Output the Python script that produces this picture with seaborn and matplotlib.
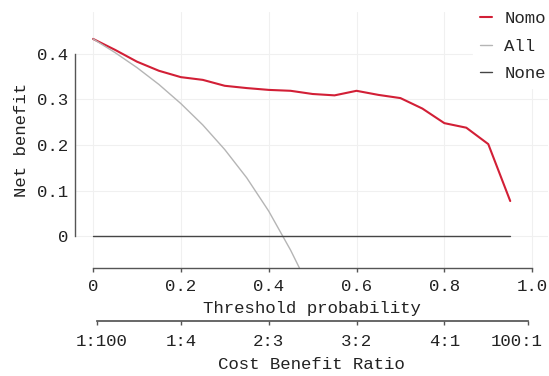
import matplotlib
matplotlib.use('Agg')
import matplotlib.pyplot as plt
import matplotlib.transforms as mtransforms
import seaborn as sns
import pandas as pd

# decision curve values
thresholds = [0.00, 0.05, 0.10, 0.15, 0.20, 0.25, 0.30, 0.35, 0.40, 0.45,
              0.50, 0.55, 0.60, 0.65, 0.70, 0.75, 0.80, 0.85, 0.90, 0.95]
nomo = [0.433, 0.409, 0.383, 0.363, 0.349, 0.343, 0.330, 0.325, 0.321, 0.319,
        0.312, 0.309, 0.319, 0.310, 0.303, 0.280, 0.248, 0.238, 0.202, 0.077]
all_x = [0.00, 0.05, 0.10, 0.15, 0.20, 0.25, 0.30, 0.35, 0.40, 0.45, 0.47]
all_nb = [0.433, 0.403, 0.370, 0.333, 0.291, 0.244, 0.190, 0.128, 0.055, -0.031, -0.070]
none_x = [0.00, 0.95]
none_nb = [0.0, 0.0]

x_ticks = [0, 0.2, 0.4, 0.6, 0.8, 1.0]
x_labels = ['0', '0.2', '0.4', '0.6', '0.8', '1.0']
y_ticks = [0, 0.1, 0.2, 0.3, 0.4]
y_labels = ['0', '0.1', '0.2', '0.3', '0.4']
cbr_ticks = [0.01, 0.2, 0.4, 0.6, 0.8, 0.99]
cbr_labels = ['1:100', '1:4', '2:3', '3:2', '4:1', '100:1']

sns.set_theme(style='whitegrid')
plt.rcParams['font.family'] = ['Liberation Mono', 'DejaVu Sans']
plt.rcParams['font.size'] = 12.5

fig = plt.figure(figsize=(5.49, 3.76), dpi=100)
ax = fig.add_axes([75 / 549, 1 - 268 / 376, 473 / 549, 256 / 376])

df_nomo = pd.DataFrame({'x': thresholds, 'y': nomo})
df_all = pd.DataFrame({'x': all_x, 'y': all_nb})
df_none = pd.DataFrame({'x': none_x, 'y': none_nb})

sns.lineplot(data=df_nomo, x='x', y='y', ax=ax, color='#d21f36', lw=1.5, label='Nomo')
sns.lineplot(data=df_all, x='x', y='y', ax=ax, color='#b5b5b5', lw=1.0, label='All')
sns.lineplot(data=df_none, x='x', y='y', ax=ax, color='#454545', lw=1.0, label='None')

ax.set_xlim(-0.041, 1.036)
ax.set_ylim(-0.070, 0.492)
ax.set_xticks(x_ticks)
ax.set_xticklabels(x_labels)
ax.set_yticks(y_ticks)
ax.set_yticklabels(y_labels)
ax.grid(True, color='#f0f0f0', lw=0.8)
ax.set_facecolor('white')

for s in ['top', 'right']:
    ax.spines[s].set_visible(False)
for s in ['left', 'bottom']:
    ax.spines[s].set_visible(True)
    ax.spines[s].set_color('#555555')
    ax.spines[s].set_linewidth(1.0)
ax.spines['left'].set_bounds(0, 0.4)
ax.spines['bottom'].set_bounds(0, 1.0)
ax.tick_params(axis='y', length=3, width=1.0, color='#555555',
               labelsize=12.5, pad=2, labelcolor='#222222')
ax.tick_params(axis='x', length=3, width=1.0, color='#555555',
               labelsize=12.5, pad=5, labelcolor='#222222')
ax.set_xlabel('Threshold probability', fontsize=12.5, labelpad=5, color='#222222')
ax.set_ylabel('Net benefit', fontsize=12.5, labelpad=6, color='#222222')

# cost benefit ratio axis underneath
ax2 = ax.twiny()
ax2.set_xlim(ax.get_xlim())
ax2.grid(False)
for s in ['top', 'right', 'left']:
    ax2.spines[s].set_visible(False)
ax2.spines['bottom'].set_visible(True)
ax2.spines['bottom'].set_position(('outward', 38))
ax2.spines['bottom'].set_bounds(0.01, 0.99)
ax2.spines['bottom'].set_color('#555555')
ax2.xaxis.set_ticks_position('bottom')
ax2.xaxis.set_label_position('bottom')
ax2.set_xticks(cbr_ticks)
ax2.set_xticklabels(cbr_labels)
ax2.tick_params(axis='x', length=3, width=1.0, color='#555555', labelsize=12.5,
                pad=6.5, labelcolor='#222222')
ax2.set_xlabel('Cost Benefit Ratio', fontsize=12.5, labelpad=5.5, color='#222222')
ax2.patch.set_visible(False)

# end labels are pulled inwards in the reference
tl = ax2.get_xticklabels()
tl[0].set_transform(tl[0].get_transform() + mtransforms.ScaledTranslation(4 / 100, 0, fig.dpi_scale_trans))
tl[-1].set_transform(tl[-1].get_transform() + mtransforms.ScaledTranslation(-11 / 100, 0, fig.dpi_scale_trans))

leg = ax.legend(loc='upper right', bbox_to_anchor=(1.01, 1.03), frameon=True,
                handlelength=0.7, handletextpad=0.7, labelspacing=0.7,
                fontsize=12.5, borderaxespad=0.0)
leg.get_frame().set_facecolor('white')
leg.get_frame().set_edgecolor('white')
leg.get_frame().set_alpha(1.0)

fig.savefig('out.png', dpi=100)
